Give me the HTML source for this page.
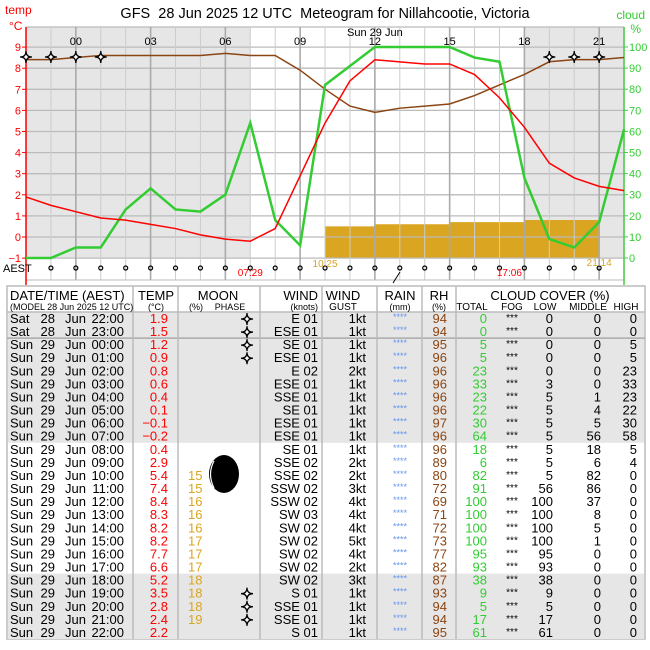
<!DOCTYPE html>
<html><head><meta charset="utf-8"><style>
body{margin:0;background:#fff}
svg{display:block;font-family:"Liberation Sans",sans-serif}
</style></head><body>
<svg id="s" width="650" height="650" viewBox="0 0 650 650">
<g id="chart"></g>
<g id="table"></g>
</svg>
<script>
const hours=["22:00","23:00","00:00","01:00","02:00","03:00","04:00","05:00","06:00","07:00","08:00","09:00","10:00","11:00","12:00","13:00","14:00","15:00","16:00","17:00","18:00","19:00","20:00","21:00","22:00"];
const temps=[1.9,1.5,1.2,0.9,0.8,0.6,0.4,0.1,-0.1,-0.2,0.4,2.9,5.4,7.4,8.4,8.3,8.2,8.2,7.7,6.6,5.2,3.5,2.8,2.4,2.2];
const rh=[94,94,95,96,96,96,96,96,97,96,96,89,80,72,69,71,72,73,77,82,87,93,94,94,95];
const cloudTotal=[0,0,5,5,23,33,23,22,30,64,18,6,82,91,100,100,100,100,95,93,38,9,5,17,61];
const cloudLow=[0,0,0,0,0,3,5,5,5,5,5,5,5,56,100,100,100,100,95,93,38,9,5,17,61];
const cloudMid=[0,0,0,0,0,0,1,4,5,56,18,6,82,86,37,8,5,1,0,0,0,0,0,0,0];
const cloudHigh=[0,0,5,5,23,33,23,22,30,58,5,4,0,0,0,0,0,0,0,0,0,0,0,0,0];
const moonPct=[null,null,null,null,null,null,null,null,null,null,null,null,15,15,16,16,16,17,17,17,18,18,18,19,null];
const moonStar=[1,1,1,1,0,0,0,0,0,0,0,0,0,0,0,0,0,0,0,0,0,1,1,1,0];
const wind=["E 01","ESE 01","SE 01","ESE 01","E 02","ESE 01","SSE 01","SE 01","ESE 01","ESE 01","SE 01","SSE 02","SSE 02","SSW 02","SSW 02","SW 03","SW 02","SW 02","SW 02","SW 02","SW 02","S 01","SSE 01","SSE 01","S 01"];
const gust=[1,1,1,1,2,1,1,1,1,1,1,2,2,3,4,4,4,5,4,2,3,1,1,1,1];
const tempTicks=[-1,0,1,2,3,4,5,6,7,8,9];
const cloudTicks=[0,10,20,30,40,50,60,70,80,90,100];

const NS="http://www.w3.org/2000/svg";
const X0=26,DX=24.92;
const xs=i=>X0+i*DX;
const yT=t=>237-t*21.1;
const yC=c=>258-c*2.11;
function mk(tag,at,parent,txt){const e=document.createElementNS(NS,tag);for(const k in at)e.setAttribute(k,at[k]);if(txt!=null)e.textContent=txt;parent.appendChild(e);return e;}
const C=document.getElementById('chart'),T=document.getElementById('table');

let r=mk('rect',{x:xs(0),y:27,width:xs(9)-xs(0),height:231,fill:'#e6e6e6'},C);

r=mk('rect',{x:xs(20),y:27,width:xs(24)-xs(20),height:231,fill:'#e6e6e6'},C);

for(let i=0;i<24;i++){if(moonPct[i]==null||i>=23)continue;
 const b=mk('rect',{x:xs(i),y:yC(moonPct[i]),width:DX,height:258-yC(moonPct[i]),fill:'#daa520'},C);
 }
tempTicks.forEach(t=>{mk('line',{x1:X0,x2:xs(24),y1:yT(t),y2:yT(t),stroke:'#bbb','stroke-width':1.3},C);});
mk('line',{x1:X0,x2:xs(24),y1:27,y2:27,stroke:'#bbb','stroke-width':1.3},C);
for(let i=0;i<=24;i++){const h=parseInt(hours[i]);mk('line',{x1:xs(i),x2:xs(i),y1:27,y2:280,stroke:h%3==0?'#aaa':'#ccc','stroke-width':h%3==0?1.6:1},C);
 if(h%3==0){const l=mk('text',{x:xs(i),y:45,'font-size':11,'text-anchor':'middle'},C,hours[i].slice(0,2));}}
mk('line',{x1:X0,x2:xs(24),y1:280,y2:280,stroke:'#bbb'},C);
let t=mk('text',{x:xs(14),y:36,'font-size':11,'text-anchor':'middle'},C,'Sun 29 Jun');
mk('line',{x1:X0,x2:X0,y1:27,y2:285,stroke:'#f00','stroke-width':1.5},C);
mk('line',{x1:624,x2:624,y1:27,y2:285,stroke:'#4c4','stroke-width':1.5},C);
tempTicks.forEach(v=>{mk('line',{x1:X0-4,x2:X0,y1:yT(v),y2:yT(v),stroke:'#f00'},C);const l=mk('text',{x:21,y:yT(v)+4,'font-size':11,fill:'#f00','text-anchor':'end'},C,v<0?'\u2212'+(-v):String(v));});
cloudTicks.forEach(v=>{mk('line',{x1:624,x2:628,y1:yC(v),y2:yC(v),stroke:'#4c4'},C);const l=mk('text',{x:629,y:yC(v)+4,'font-size':11,fill:'#3c3'},C,String(v));});
t=mk('text',{x:5,y:14,'font-size':12,fill:'#f00'},C,'temp');
t=mk('text',{x:9,y:30,'font-size':12,fill:'#f00'},C,'°C');
t=mk('text',{x:645,y:19,'font-size':12,fill:'#3c3','text-anchor':'end'},C,'cloud');
t=mk('text',{x:641,y:33,'font-size':12,fill:'#3c3','text-anchor':'end'},C,'%');
t=mk('text',{x:325,y:18,'font-size':14.5,'text-anchor':'middle'},C,'GFS\u00a0\u00a028 Jun 2025 12 UTC\u00a0\u00a0Meteogram for Nillahcootie, Victoria');
function line(arr,f,col,w,name){const p=mk('polyline',{points:arr.map((v,i)=>xs(i)+','+f(v)).join(' '),fill:'none',stroke:col,'stroke-width':w},C);}
line(rh,yC,'#8b4513',1.5,'rh-line');
line(cloudTotal,yC,'#33cc33',2.5,'cloud-total-line');
line(temps,yT,'#f00',1.5,'temp-line');
function star(cx,cy,g,name){const s=mk('path',{d:`M${cx},${cy-6} Q${cx},${cy} ${cx+6},${cy} Q${cx},${cy} ${cx},${cy+6} Q${cx},${cy} ${cx-6},${cy} Q${cx},${cy} ${cx},${cy-6}Z`,fill:'#fff',stroke:'#000','stroke-width':1.3},g);}
for(let i=0;i<25;i++)if(moonStar[i])star(xs(i),57,C,'moon-phase-marker');
t=mk('text',{x:3,y:272,'font-size':11},C,'AEST');
for(let i=1;i<24;i++)mk('circle',{cx:xs(i),cy:268,r:2,fill:'none',stroke:'#000','stroke-width':1.2},C);
[['07:29',xs(9),276,'#f00'],['10:25',xs(12),267,'#daa520'],['17:06',xs(20)-15,276,'#f00'],['21:14',xs(23),266,'#daa520']].forEach(a=>{const l=mk('text',{x:a[1],y:a[2],'font-size':10,fill:a[3],'text-anchor':'middle'},C,a[0]);});
mk('line',{x1:393,y1:283,x2:400,y2:272,stroke:'#000'},C);

mk('rect',{x:7,y:286,width:638,height:353,fill:'#fff',stroke:'#bbb','stroke-width':1.5},T);
const RY=312,RH=13.08;
mk('rect',{x:8,y:RY,width:636,height:RH*10,fill:'#e6e6e6'},T);
mk('rect',{x:8,y:RY+RH*20,width:636,height:RH*5,fill:'#e6e6e6'},T);
mk('line',{x1:7,x2:645,y1:RY,y2:RY,stroke:'#bbb','stroke-width':1.5},T);
mk('line',{x1:7,x2:645,y1:RY+RH*2,y2:RY+RH*2,stroke:'#aaa','stroke-width':1.5},T);
[133,178,260,322,377,422,456].forEach(x=>mk('line',{x1:x,x2:x,y1:286,y2:639,stroke:'#bbb','stroke-width':1.5},T));
function tx(x,y,s,size,anchor,fill,name){const e=mk('text',{x:x,y:y,'font-size':size,'text-anchor':anchor||'start',fill:fill||'#000'},T,s);return e;}
tx(10,300,'DATE/TIME (AEST)',13,'start','#000','header-datetime');
tx(10,310,'(MODEL 28 Jun 2025 12 UTC)',9,'start','#000','header-model');
tx(156,300,'TEMP',13,'middle','#000','header-temp');tx(156,310,'(°C)',9,'middle','#000','header-temp-unit');
tx(218,300,'MOON',13,'middle','#000','header-moon');tx(196,310,'(%)',9,'middle','#000','header-moon-pct');tx(230,310,'PHASE',9,'middle','#000','header-moon-phase');
tx(318,300,'WIND',13,'end','#000','header-wind');tx(318,310,'(knots)',9,'end','#000','header-wind-unit');
tx(343,300,'WIND',13,'middle','#000','header-gust');tx(343,310,'GUST',10,'middle','#000','header-gust-2');
tx(400,300,'RAIN',13,'middle','#000','header-rain');tx(400,310,'(mm)',9,'middle','#000','header-rain-unit');
tx(439,300,'RH',13,'middle','#000','header-rh');tx(439,310,'(%)',9,'middle','#000','header-rh-unit');
tx(550,300,'CLOUD COVER (%)',13,'middle','#000','header-cloud');
tx(472,310,'TOTAL',10,'middle','#000','header-total');tx(512,310,'FOG',10,'middle','#000','header-fog');
tx(545,310,'LOW',10,'middle','#000','header-low');tx(588,310,'MIDDLE',10,'middle','#000','header-middle');tx(626,310,'HIGH',10,'middle','#000','header-high');
for(let i=0;i<25;i++){const y=RY+RH*i+11;const sat=i<2;
 tx(10,y,sat?'Sat':'Sun',13,'start','#000','row-day');
 tx(55,y,sat?'28':'29',13,'end','#000','row-date');
 tx(65,y,'Jun',13,'start','#000','row-month');
 tx(124,y,hours[i],13,'end','#000','row-time');
 tx(168,y,temps[i]<0?'\u2212'+(-temps[i]).toFixed(1):temps[i].toFixed(1),13,'end','#f00','row-temp');
 if(moonPct[i]!=null)tx(188,y,String(moonPct[i]),13,'start','#daa520','row-moon-pct');
 if(moonStar[i])star(247,y-4,T,'row-moon-phase');
 tx(318,y,wind[i],13,'end','#000','row-wind');
 tx(366,y,gust[i]+'kt',13,'end','#000','row-gust');
 tx(400,y-3,'****',9,'middle','#6495ed','row-rain');
 tx(447,y,String(rh[i]),13,'end','#8b4513','row-rh');
 tx(487,y,String(cloudTotal[i]),13,'end','#33cc33','row-total');
 tx(512,y-2,'***',10,'middle','#000','row-fog');
 tx(553,y,String(cloudLow[i]),13,'end','#000','row-low');
 tx(601,y,String(cloudMid[i]),13,'end','#000','row-middle');
 tx(637,y,String(cloudHigh[i]),13,'end','#000','row-high');
}
let m=mk('ellipse',{cx:224,cy:474,rx:15,ry:19,fill:'#000'},T);
mk('path',{d:'M214,461 Q207,474 214,488',fill:'none',stroke:'#fff','stroke-width':1.2},T);
</script>
</body></html>
